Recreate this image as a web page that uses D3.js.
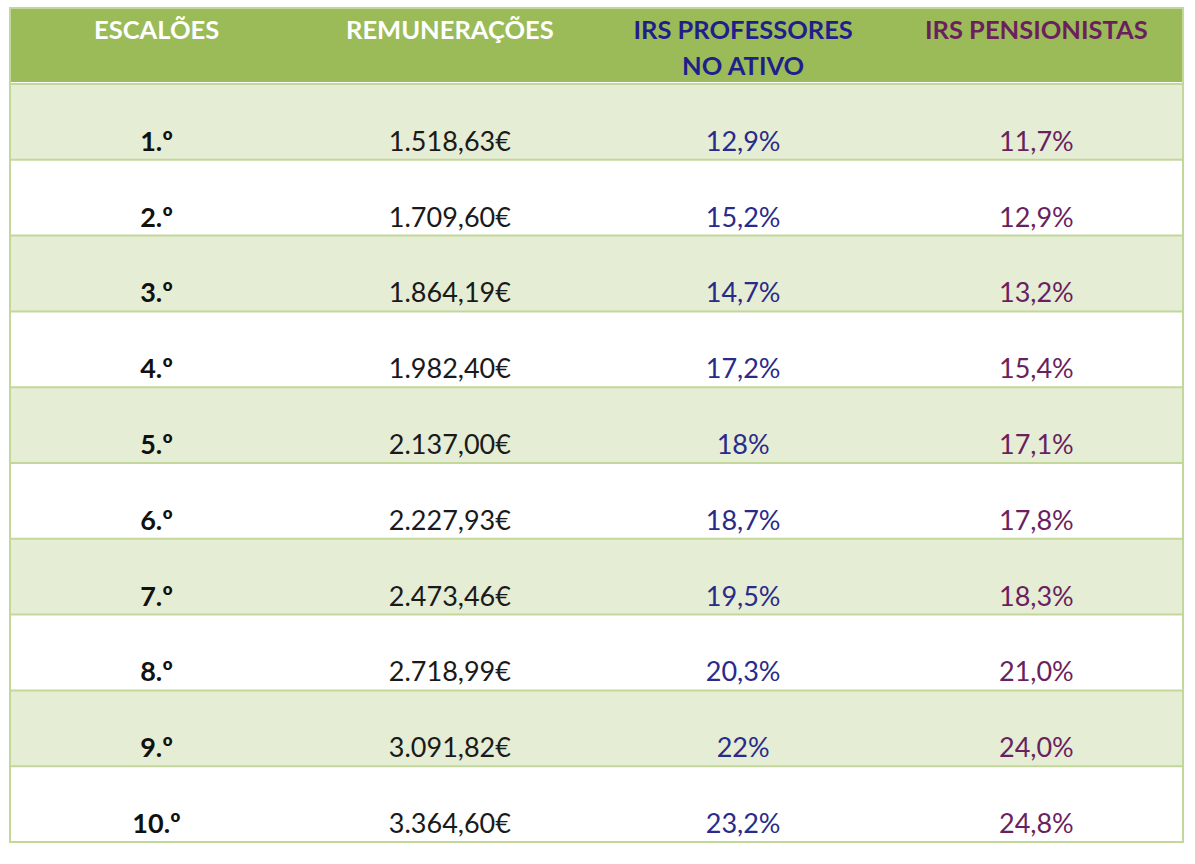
<!DOCTYPE html>
<html>
<head>
<meta charset="utf-8">
<script src="https://cdn.jsdelivr.net/npm/d3@7"></script>
<style>
  body { margin: 0; background: #fff; }
  svg text { font-family: Lato, "Open Sans", sans-serif; }
</style>
</head>
<body>
<div id="chart"></div>
<script>
const escaloes = ["1.º", "2.º", "3.º", "4.º", "5.º", "6.º", "7.º", "8.º", "9.º", "10.º"];
const remuneracoes = ["1.518,63€", "1.709,60€", "1.864,19€", "1.982,40€", "2.137,00€",
                      "2.227,93€", "2.473,46€", "2.718,99€", "3.091,82€", "3.364,60€"];
const irsProfessores = ["12,9%", "15,2%", "14,7%", "17,2%", "18%", "18,7%", "19,5%", "20,3%", "22%", "23,2%"];
const irsPensionistas = ["11,7%", "12,9%", "13,2%", "15,4%", "17,1%", "17,8%", "18,3%", "21,0%", "24,0%", "24,8%"];
const headers = [["ESCALÕES"], ["REMUNERAÇÕES"], ["IRS PROFESSORES", "NO ATIVO"], ["IRS PENSIONISTAS"]];

const W = 1195, H = 864;
const tLeft = 10, tRight = 1183, tTop = 8, headBottom = 82, tBottom = 842;

const svg = d3.select("#chart").append("svg")
    .attr("width", W).attr("height", H);

const cols = [0, 1, 2, 3];
const x = d3.scaleBand().domain(cols).range([tLeft, tRight]);
const y = d3.scaleBand().domain(d3.range(escaloes.length)).range([headBottom + 2, tBottom]);

// cabeçalho
svg.append("rect")
    .attr("x", tLeft).attr("y", tTop)
    .attr("width", tRight - tLeft).attr("height", headBottom - tTop)
    .attr("fill", "#9bbb59");

const headColors = ["#ffffff", "#ffffff", "#1f1f8c", "#6b1f5c"];
headers.forEach((lines, i) => {
    svg.append("text")
        .attr("x", x(i) + x.bandwidth() / 2)
        .attr("y", 39)
        .attr("text-anchor", "middle")
        .attr("font-size", "25.5px")
        .attr("font-weight", "bold")
        .attr("fill", headColors[i])
        .selectAll("tspan")
        .data(lines)
        .enter().append("tspan")
        .attr("x", x(i) + x.bandwidth() / 2)
        .attr("dy", (d, k) => k === 0 ? 0 : 36)
        .text(d => d);
});

// linhas
const rows = svg.selectAll(".row")
    .data(escaloes.map((e, i) => ({
        i, cells: [e, remuneracoes[i], irsProfessores[i], irsPensionistas[i]]
    })))
    .enter().append("g")
    .attr("class", "row");

rows.append("rect")
    .attr("x", tLeft).attr("y", d => y(d.i))
    .attr("width", tRight - tLeft).attr("height", y.bandwidth())
    .attr("fill", d => d.i % 2 === 0 ? "#e5edd4" : "#ffffff");

rows.append("line")
    .attr("x1", tLeft).attr("x2", tRight)
    .attr("y1", d => y(d.i)).attr("y2", d => y(d.i))
    .attr("stroke", "#c4d79b").attr("stroke-width", 2);

const cellColors = ["#111111", "#1a1a1a", "#2a2a8a", "#6a1f5f"];
rows.selectAll(".cell")
    .data(d => d.cells.map((c, k) => ({ c, k, i: d.i })))
    .enter().append("text")
    .attr("class", "cell")
    .attr("x", d => x(d.k) + x.bandwidth() / 2)
    .attr("y", d => y(d.i) + y.bandwidth() - 9)
    .attr("text-anchor", "middle")
    .attr("font-size", "27px")
    .attr("font-weight", d => d.k === 0 ? "bold" : "normal")
    .attr("fill", d => cellColors[d.k])
    .text(d => d.c);

// contorno
svg.append("rect")
    .attr("x", tLeft).attr("y", tTop)
    .attr("width", tRight - tLeft).attr("height", tBottom - tTop)
    .attr("fill", "none")
    .attr("stroke", "#c4d79b").attr("stroke-width", 2);
</script>
</body>
</html>
